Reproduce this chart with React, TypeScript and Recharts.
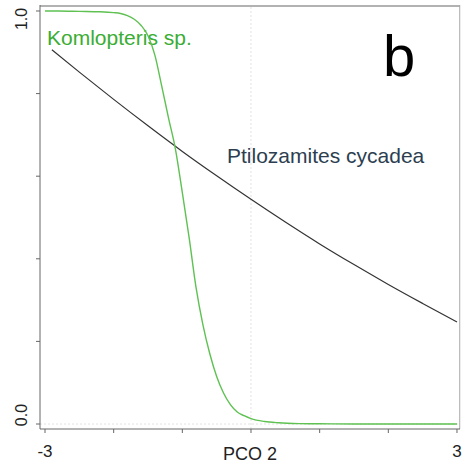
import React from "react";
import { LineChart, Line, XAxis, YAxis, ReferenceLine, Customized } from "recharts";

const xTicks = [-3, -2, -1, 0, 1, 2, 3];
const yTicks = [0, 0.2, 0.4, 0.6, 0.8, 1.0];
const xTickLabels: Record<string, string> = { "-3": "-3", "3": "3" };
const yTickLabels: Record<string, string> = { "0": "0.0", "1": "1.0" };

const X_MIN = -3.073;
const X_MAX = 3.044;
const Y_MIN = -0.0121;
const Y_MAX = 1.0145;
const BOX_TOP = 1.012;
const BOX_RIGHT = 3.04;

const komX = [-3, -2.8, -2.5, -2.2, -2.0, -1.9, -1.8, -1.7, -1.6, -1.5, -1.4, -1.3, -1.2, -1.1, -1.0, -0.9, -0.8, -0.7, -0.6, -0.5, -0.4, -0.3, -0.2, -0.1, 0, 0.2, 0.4, 0.7, 1.0, 1.5, 2.0, 2.5, 3.0];
const komY = [1.0, 1.0, 0.999, 0.998, 0.996, 0.994, 0.989, 0.98, 0.965, 0.94, 0.893, 0.818, 0.74, 0.665, 0.56, 0.45, 0.33, 0.24, 0.17, 0.115, 0.075, 0.047, 0.029, 0.02, 0.013, 0.006, 0.003, 0.001, 0.0005, 0, 0, 0, 0];

const ptiX = [-2.9, -2.5, -2.0, -1.5, -1.0, -0.5, 0, 0.5, 1.0, 1.5, 2.0, 2.5, 3.0];
const ptiY = [0.906, 0.852, 0.786, 0.722, 0.66, 0.601, 0.544, 0.489, 0.436, 0.386, 0.338, 0.292, 0.247];

const komData = komX.map((x, i) => ({ x, y: komY[i] }));
const ptiData = ptiX.map((x, i) => ({ x, y: ptiY[i] }));

const FONT = "'Liberation Sans', Arial, sans-serif";

const XTick = (props: any) => {
  const { x, y, payload } = props;
  const label = xTickLabels[String(payload.value)] ?? "";
  if (!label) return null;
  return (
    <text x={x} y={y} dy="0.71em" textAnchor="middle" fontSize={17} fontFamily={FONT} fill="#222">
      {label}
    </text>
  );
};

const YTick = (props: any) => {
  const { x, y, payload } = props;
  const label = yTickLabels[String(payload.value)] ?? "";
  if (!label) return null;
  const off = payload.value === 1 ? 8 : -9;
  return (
    <text
      transform={`translate(${x - 13},${y + off}) rotate(-90)`}
      textAnchor="middle"
      dominantBaseline="central"
      fontSize={16}
      fontFamily={FONT}
      fill="#222"
    >
      {label}
    </text>
  );
};

const Labels = () => (
  <g fontFamily={FONT}>
    <text x={47} y={45} fontSize={21} fill="#3aad34">Komlopteris sp.</text>
    <text x={227} y={163} fontSize={21} fill="#2c3e50">Ptilozamites cycadea</text>
    <text x={383} y={76} fontSize={58} fill="#000">b</text>
  </g>
);

export default function App() {
  return (
    <div style={{ position: "absolute", left: 0, top: 0, width: 465, height: 466, background: "#fff" }}>
      <LineChart width={465} height={466} margin={{ top: 5, right: 5, left: 10, bottom: 8 }}>
        <XAxis
          dataKey="x"
          type="number"
          domain={[X_MIN, X_MAX]}
          allowDataOverflow
          ticks={xTicks}
          tick={<XTick />}
          tickSize={4}
          tickMargin={12}
          height={29}
          stroke="#666"
          tickLine={{ stroke: "#666" }}
          label={{ value: "PCO 2", position: "insideBottom", offset: -2, fontSize: 18, fontFamily: FONT, fill: "#222" }}
        />
        <YAxis
          type="number"
          domain={[Y_MIN, Y_MAX]}
          allowDataOverflow
          ticks={yTicks}
          tick={<YTick />}
          tickSize={4}
          width={30}
          stroke="#666"
          tickLine={{ stroke: "#666" }}
        />
        <ReferenceLine x={0} stroke="#e2e2e2" strokeDasharray="2 2" />
        <ReferenceLine y={0} stroke="#e2e2e2" strokeDasharray="2 2" />
        <ReferenceLine y={BOX_TOP} stroke="#999" strokeWidth={1.5} ifOverflow="visible" />
        <ReferenceLine x={BOX_RIGHT} stroke="#aaa" strokeWidth={1} ifOverflow="visible" />
        <Line data={ptiData} dataKey="y" type="monotone" stroke="#333" strokeWidth={1.2} dot={false} isAnimationActive={false} />
        <Line data={komData} dataKey="y" type="monotone" stroke="#5ec152" strokeWidth={1.4} dot={false} isAnimationActive={false} />
        <Customized component={Labels} />
      </LineChart>
    </div>
  );
}
